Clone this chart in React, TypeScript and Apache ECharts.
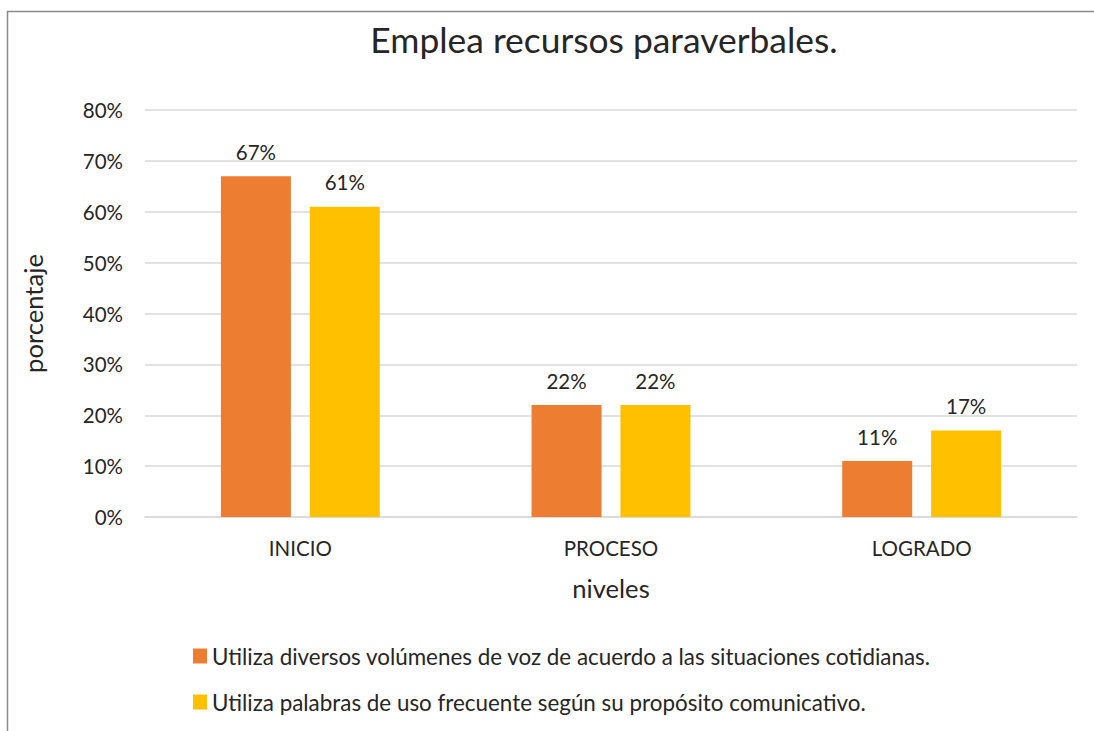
import React, { useEffect, useRef } from "react";
import * as echarts from "echarts";

const categories = ["INICIO", "PROCESO", "LOGRADO"];
const seriesNames = [
  "Utiliza diversos volúmenes de voz de acuerdo a las situaciones cotidianas.",
  "Utiliza palabras de uso frecuente según su propósito comunicativo.",
];
const volumenes = [67, 22, 11];
const palabras = [61, 22, 17];
const colors = ["#ED7D31", "#FFC000"];

export default function App() {
  const ref = useRef<HTMLDivElement>(null);
  useEffect(() => {
    if (!ref.current) return;
    const chart = echarts.init(ref.current, undefined, { renderer: "svg" });
    const font = "Lato, 'Open Sans', sans-serif";
    const txt = "#262626";
    chart.setOption({
      animation: false,
      textStyle: { fontFamily: font },
      graphic: [
        {
          type: "rect",
          shape: { x: 7.5, y: 11.5, width: 1100, height: 740 },
          style: { fill: "none", stroke: "#8a8a8a", lineWidth: 1.5 },
          z: -1,
        },
      ],
      title: {
        text: "Emplea recursos paraverbales.",
        left: 599,
        top: 17,
        textAlign: "center",
        textStyle: { fontSize: 35.4, fontWeight: "normal", color: txt, fontFamily: font },
      },
      legend: {
        orient: "vertical",
        left: 188,
        top: 640,
        itemWidth: 14,
        itemHeight: 15,
        itemGap: 24,
        icon: "rect",
        textStyle: { fontSize: 22.4, color: txt, fontFamily: font },
        data: seriesNames,
      },
      grid: { left: 145, right: 17, top: 110, bottom: 214, containLabel: false },
      xAxis: {
        type: "category",
        data: categories,
        name: "niveles",
        nameLocation: "middle",
        nameGap: 58,
        nameTextStyle: { fontSize: 25.6, color: txt, fontFamily: font },
        axisLine: { lineStyle: { color: "#d9d9d9", width: 1.5 } },
        axisTick: { show: false },
        axisLabel: { fontSize: 20.5, color: txt, margin: 20, fontFamily: font },
      },
      yAxis: {
        type: "value",
        min: 0,
        max: 80,
        interval: 10,
        name: "porcentaje",
        nameLocation: "middle",
        nameGap: 99,
        nameTextStyle: { fontSize: 25.6, color: txt, fontFamily: font },
        axisLine: { show: false },
        axisTick: { show: false },
        splitLine: { lineStyle: { color: "#d9d9d9", width: 1.5 } },
        axisLabel: { formatter: "{value}%", fontSize: 20.5, color: txt, margin: 22, fontFamily: font },
      },
      series: [
        {
          name: seriesNames[0],
          type: "bar",
          data: volumenes,
          barWidth: 70,
          barGap: "27%",
          itemStyle: { color: colors[0] },
          label: { show: true, position: "top", distance: 14, formatter: "{c}%", fontSize: 20.5, color: txt, fontFamily: font },
        },
        {
          name: seriesNames[1],
          type: "bar",
          data: palabras,
          barWidth: 70,
          barGap: "27%",
          itemStyle: { color: colors[1] },
          label: { show: true, position: "top", distance: 14, formatter: "{c}%", fontSize: 20.5, color: txt, fontFamily: font },
        },
      ],
    });
    return () => chart.dispose();
  }, []);
  return (
    <div
      ref={ref}
      style={{ position: "fixed", left: 0, top: 0, width: 1094, height: 731, background: "#fff" }}
    />
  );
}
